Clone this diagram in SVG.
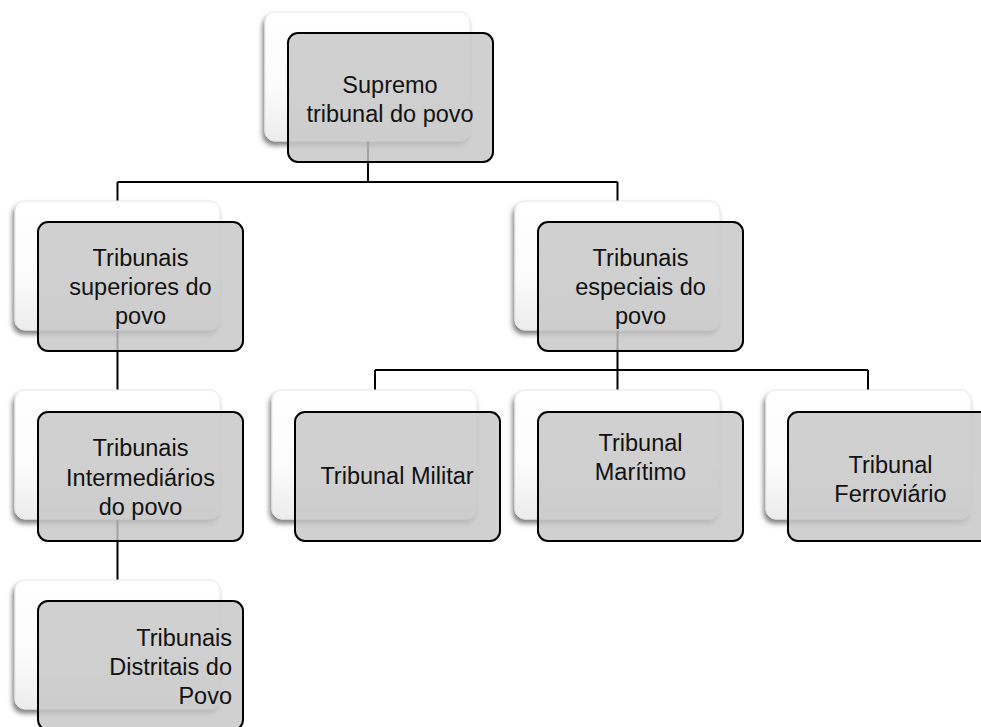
<svg xmlns="http://www.w3.org/2000/svg" width="981" height="727" viewBox="0 0 981 727">
  <defs>
    <linearGradient id="backGrad" x1="0" y1="0" x2="0" y2="1">
      <stop offset="0" stop-color="#ffffff"/>
      <stop offset="0.6" stop-color="#fbfbfb"/>
      <stop offset="1" stop-color="#ececec"/>
    </linearGradient>
    <filter id="shadow" x="-10%" y="-10%" width="120%" height="125%">
      <feDropShadow dx="-2" dy="4" stdDeviation="2.5" flood-color="#000" flood-opacity="0.5"/>
    </filter>
  </defs>
  <style>
    .back { fill: url(#backGrad); stroke: #e6e6e6; stroke-width: 1; filter: url(#shadow); }
    .front { fill: #c6c6c6; fill-opacity: 0.82; stroke: #000; stroke-width: 2; }
    .conn { fill: none; stroke: #000; stroke-width: 2; }
    text { font-family: "Liberation Sans", Arial, sans-serif; font-size: 23.5px; fill: #111; text-anchor: middle; }
    .right { text-anchor: end; }
  </style>
  <rect width="981" height="727" fill="#ffffff"/>

  <g id="connectors">
    <path class="conn" d="M368 141 V182 M117.5 182 H617.5 M117.5 182 V201 M617.5 182 V201"/>
    <path class="conn" d="M117.5 330 V390 M117.5 519 V580"/>
    <path class="conn" d="M617.5 330 V390 M375 370 H868 M375 370 V390 M868 370 V390"/>
  </g>

  <g id="supremo">
    <rect class="back" x="265" y="12" width="205" height="129" rx="10"/>
    <rect class="front" x="288" y="33" width="205" height="129" rx="10"/>
    <text x="390" y="93">Supremo</text>
    <text x="390" y="122">tribunal do povo</text>
  </g>

  <g id="superiores">
    <rect class="back" x="15" y="201" width="205" height="129" rx="10"/>
    <rect class="front" x="38" y="222" width="205" height="129" rx="10"/>
    <text x="140.5" y="266">Tribunais</text>
    <text x="140.5" y="295">superiores do</text>
    <text x="140.5" y="324">povo</text>
  </g>

  <g id="especiais">
    <rect class="back" x="515" y="201" width="205" height="129" rx="10"/>
    <rect class="front" x="538" y="222" width="205" height="129" rx="10"/>
    <text x="640.5" y="266">Tribunais</text>
    <text x="640.5" y="295">especiais do</text>
    <text x="640.5" y="324">povo</text>
  </g>

  <g id="intermediarios">
    <rect class="back" x="15" y="390" width="205" height="129" rx="10"/>
    <rect class="front" x="38" y="412" width="205" height="129" rx="10"/>
    <text x="140.5" y="456">Tribunais</text>
    <text x="140.5" y="486">Intermediários</text>
    <text x="140.5" y="515">do povo</text>
  </g>

  <g id="distritais">
    <rect class="back" x="15" y="580" width="205" height="129" rx="10"/>
    <rect class="front" x="38" y="601" width="205" height="129" rx="10"/>
    <text class="right" x="232" y="646">Tribunais</text>
    <text class="right" x="232" y="675">Distritais do</text>
    <text class="right" x="232" y="704">Povo</text>
  </g>

  <g id="militar">
    <rect class="back" x="272" y="390" width="205" height="129" rx="10"/>
    <rect class="front" x="295" y="412" width="205" height="129" rx="10"/>
    <text x="397" y="484">Tribunal Militar</text>
  </g>

  <g id="maritimo">
    <rect class="back" x="515" y="390" width="205" height="129" rx="10"/>
    <rect class="front" x="538" y="412" width="205" height="129" rx="10"/>
    <text x="640.5" y="451">Tribunal</text>
    <text x="640.5" y="480">Marítimo</text>
  </g>

  <g id="ferroviario">
    <rect class="back" x="766" y="390" width="205" height="129" rx="10"/>
    <rect class="front" x="788" y="412" width="205" height="129" rx="10"/>
    <text x="890.5" y="473">Tribunal</text>
    <text x="890.5" y="502">Ferroviário</text>
  </g>
</svg>
